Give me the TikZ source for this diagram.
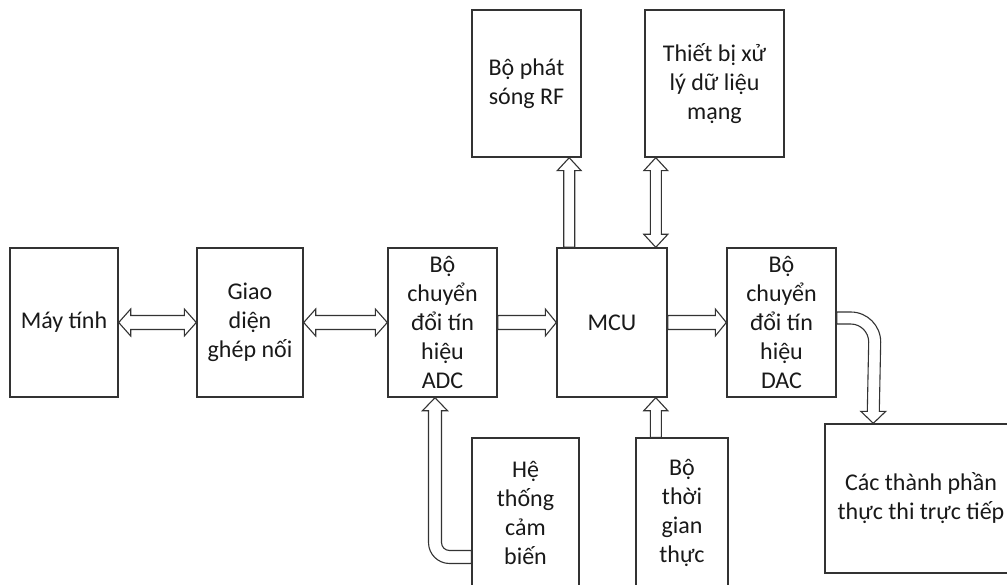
\documentclass[tikz,border=0pt]{standalone}
\usepackage{fontspec}
\setmainfont{Carlito}
\usetikzlibrary{calc}
\newcommand\hdarrow[2]{% #1 left tip, #2 right tip
\draw[fat] (#1) -- ++(12,-13.5) -- ++(0,6.5) -- ($(#2)+(-12,-7)$) -- ++(0,-6.5) -- (#2) -- ++(-12,13.5) -- ++(0,-6.5) -- ($(#1)+(12,7)$) -- ++(0,6.5) -- cycle;}
\newcommand\hsarrow[2]{% #1 tail, #2 tip
\draw[fat] ($(#1)+(0,-7)$) -- ($(#2)+(-11,-7)$) -- ++(0,-6.5) -- (#2) -- ++(-11,13.5) -- ++(0,-6.5) -- ($(#1)+(0,7)$) -- cycle;}
\newcommand\vsarrow[2]{% #1 tail (bottom), #2 tip (top)
\draw[fat] ($(#1)+(-5.5,0)$) -- ($(#2)+(-5.5,13)$) -- ++(-6.5,0) -- (#2) -- ++(12,13) -- ++(-6.5,0) -- ($(#1)+(5.5,0)$) -- cycle;}
\newcommand\vdarrow[2]{% #1 top tip, #2 bottom tip
\draw[fat] (#1) -- ++(12,13) -- ++(-6.5,0) -- ($(#2)+(5.5,-13)$) -- ++(6.5,0) -- (#2) -- ++(-12,-13) -- ++(6.5,0) -- ($(#1)+(-5.5,13)$) -- ++(-6.5,0) -- cycle;}
\begin{document}
\begin{tikzpicture}[x=1pt,y=-1pt,
  box/.style={draw=black!80, line width=1.4pt, rectangle, inner sep=0pt, align=center,
    font=\fontsize{24}{29}\selectfont, text=black!90},
  fat/.style={draw=black!80, line width=1.1pt, fill=white, line join=miter}]
\useasboundingbox (0,0) rectangle (1007,585);
\fill[white] (0,0) rectangle (1007,585);
\clip (0,0) rectangle (1007,585);
% nodes
\node[box, minimum width=108, minimum height=149] (pc) at (64,322.5) {Máy tính};
\node[box, minimum width=106, minimum height=149] (gd) at (250,322.5) {Giao\\diện\\ghép nối};
\node[box, minimum width=109, minimum height=149] (adc) at (442.5,322.5) {Bộ\\chuyển\\đổi tín\\hiệu\\ADC};
\node[box, minimum width=110, minimum height=149] (mcu) at (612,322.5) {MCU};
\node[box, minimum width=109, minimum height=149] (dac) at (781.5,322.5) {Bộ\\chuyển\\đổi tín\\hiệu\\DAC};
\node[box, minimum width=109, minimum height=147] (rf) at (526.5,83.5) {Bộ phát\\sóng RF};
\node[box, minimum width=139, minimum height=147] (net) at (714.5,83.5) {Thiết bị xử\\lý dữ liệu\\mạng};
\node[box, minimum width=107, minimum height=150] (sen) at (525.5,513) {Hệ\\thống\\cảm\\biến};
\node[box, minimum width=92, minimum height=150] (tim) at (682,513) {Bộ\\thời\\gian\\thực};
\node[box, minimum width=192, minimum height=149] (out) at (921,498.5) {Các thành phần\\thực thi trực tiếp};
% horizontal arrows
\hdarrow{pc.east}{gd.west}
\hdarrow{gd.east}{adc.west}
\hsarrow{adc.east}{mcu.west}
\hsarrow{mcu.east}{dac.west}
% vertical arrows
\coordinate (rfA) at ($(rf.south east)+(-12.5,0)$);
\coordinate (rfB) at (rfA |- mcu.north);
\vsarrow{rfB}{rfA}
\coordinate (netA) at ($(net.south west)+(11.5,0)$);
\coordinate (netB) at (netA |- mcu.north);
\vdarrow{netA}{netB}
\coordinate (timA) at ($(tim.north west)+(20.5,0)$);
\coordinate (timB) at (timA |- mcu.south);
\vsarrow{timA}{timB}
% sensor -> ADC bent arrow
\coordinate (senT) at ($(adc.south)+(-7.5,0)$);
\coordinate (senE) at ($(sen.west)+(0,44)$);
\draw[fat] (senT) -- ++(12.5,13) -- ++(-6,0)
  -- ($(senT |- senE)+(6.5,-14.5)$) arc[start angle=180, end angle=90, radius=8]
  -- ($(senE)+(0,-6.5)$) -- ($(senE)+(0,6.5)$)
  -- ($(senT |- senE)+(14.5,6.5)$) arc[start angle=90, end angle=180, radius=21]
  -- ($(senT)+(-6.5,13)$) -- ++(-6,0) -- cycle;
% DAC -> output bent arrow
\coordinate (dacS) at ($(dac.east)+(0,-4.5)$);
\coordinate (outT) at ($(out.north west)+(49,0)$);
\draw[fat] ($(dacS)+(0,-6)$) -- ($(dacS)+(14,-6)$) arc[start angle=270, end angle=360, radius=30]
  -- ($(outT)+(6,-12)$) -- ++(6.5,0) -- (outT) -- ++(-12.5,-12) -- ++(6.5,0)
  -- ($(dacS)+(32,24)$) arc[start angle=0, end angle=-90, radius=18]
  -- ($(dacS)+(0,6)$) -- cycle;
\end{tikzpicture}
\end{document}
